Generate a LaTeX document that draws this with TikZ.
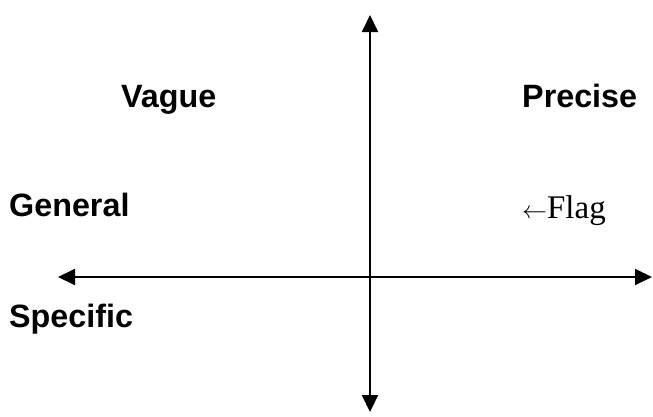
\documentclass[tikz,border=0pt]{standalone}
\usepackage{fontspec}
\setmainfont{Liberation Serif}
\newfontfamily\arialbold{Liberation Sans Bold}
\usetikzlibrary{arrows.meta}

\begin{document}
\begin{tikzpicture}[x=1pt,y=-1pt,>={Triangle[length=17pt,width=16pt]},
    axis/.style={<->,line width=2pt,black},
    word/.style={anchor=base west,inner sep=0pt,font=\arialbold\fontsize{32.3}{38}\selectfont}]
  \useasboundingbox (0,0) rectangle (653,416);

  \coordinate (top) at (370,15);
  \coordinate (bottom) at (370,412);
  \coordinate (left) at (58,277);
  \coordinate (right) at (652,277);
  \draw[axis] (bottom) -- (top);
  \draw[axis] (left) -- (right);

  \node[word] (vague) at (121,107) {Vague};
  \node[word] (precise) at (522,107) {Precise};
  \node[word] (general) at (9,216) {General};
  \node[word] (specific) at (9,327) {Specific};
  \node[anchor=base west,inner sep=0pt,font=\fontsize{33}{38}\selectfont] (flag) at (522,218) {$\leftarrow$Flag};
\end{tikzpicture}
\end{document}
